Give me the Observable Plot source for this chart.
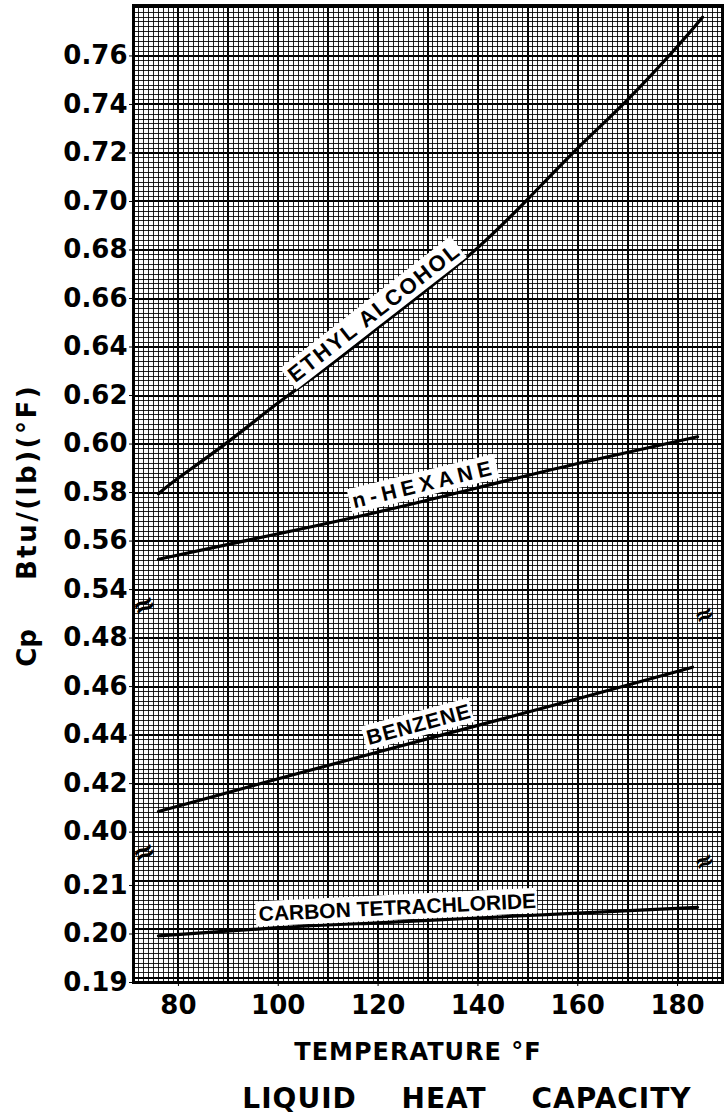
<!DOCTYPE html>
<html>
<head>
<meta charset="utf-8">
<title>Liquid Heat Capacity</title>
<script src="https://cdn.jsdelivr.net/npm/d3@7"></script>
<script src="https://cdn.jsdelivr.net/npm/@observablehq/plot@0.6"></script>
<style>
  html, body { margin: 0; padding: 0; background: #fff; }
  #page { position: relative; width: 724px; height: 1118px; overflow: hidden; background: #fff; }
  #page svg { position: absolute; left: 0; top: 0; }
  .caption { position: absolute; font-family: "DejaVu Sans", sans-serif; font-weight: bold; color: #000; text-align: center; white-space: pre; line-height: 1; }
  #xlabel { left: 123px; width: 590px; top: 1040px; font-size: 24px; letter-spacing: 1px; }
  #title { left: 210px; width: 514px; top: 1085px; font-size: 28px; letter-spacing: 1px; word-spacing: 34px; }
</style>
</head>
<body>
<div id="page">
  <div id="xlabel" class="caption">TEMPERATURE °F</div>
  <div id="title" class="caption">LIQUID HEAT CAPACITY</div>
</div>
<script>
// Heat capacity of liquids, Cp in Btu/(lb)(°F), against temperature in °F
const ethylT   = [76, 80, 90, 100, 110, 120, 130, 140, 150, 160, 170, 180, 185];
const ethylCp  = [0.5795, 0.586, 0.601, 0.617, 0.632, 0.648, 0.664, 0.681, 0.701, 0.722, 0.742, 0.764, 0.776];
const hexaneT  = [76, 100, 120, 140, 160, 184];
const hexaneCp = [0.5525, 0.563, 0.572, 0.582, 0.592, 0.603];
const benzeneT  = [76, 100, 120, 140, 160, 183];
const benzeneCp = [0.4085, 0.422, 0.433, 0.444, 0.455, 0.468];
const cclT  = [76, 100, 120, 140, 160, 184];
const cclCp = [0.1996, 0.2013, 0.2023, 0.2033, 0.2043, 0.2055];

// Curve labels: text, temperature at the label centre, letter spacing (px), lift above the curve (px), size
const labelNames   = ["ETHYL ALCOHOL", "n-HEXANE", "BENZENE", "CARBON TETRACHLORIDE"];
const labelTemps   = [121, 130, 129, 124];
const labelSpacing = [2, 5, 1, 0];
const labelLift    = [14, 16, 16, 14];
const labelSize    = [22, 21, 21, 21];

// Axis ticks
const xTicks = [80, 100, 120, 140, 160, 180];
const yTicks = [0.19, 0.20, 0.21, 0.40, 0.42, 0.44, 0.46, 0.48,
                0.54, 0.56, 0.58, 0.60, 0.62, 0.64, 0.66, 0.68, 0.70, 0.72, 0.74, 0.76];

// The Cp axis is broken into three bands; each is mapped onto one
// continuous "grid" coordinate, one unit per heavy graph-paper division.
function toGrid(v) {
  if (v < 0.30) return (v - 0.19) / 0.01;          // 0.19 – 0.215, 0.01 per division
  if (v < 0.51) return 3.1 + (v - 0.40) / 0.02;    // 0.39 – 0.49, 0.02 per division
  return 8.1 + (v - 0.54) / 0.02;                  // 0.53 – 0.78, 0.02 per division
}
const breakAt = [toGrid(0.2158), toGrid(0.5314)];

const width = 724, height = 1030;
const marginLeft = 133, marginRight = 2, marginTop = 5, marginBottom = 48;
const xDomain = [71, 189];
const yDomain = [0, 20.14];

const series = [
  {T: ethylT, Cp: ethylCp},
  {T: hexaneT, Cp: hexaneCp},
  {T: benzeneT, Cp: benzeneCp},
  {T: cclT, Cp: cclCp}
];
const rows = s => s.T.map((t, i) => ({t, cp: s.Cp[i]}));

// Graph-paper rulings: fine every 1/10 division, heavy every division
const xMinor = d3.range(72, 189, 1);
const xMajor = d3.range(80, 189, 10);
const yMinor = d3.range(1, 202).map(i => i / 10);
const yMajor = d3.range(0, 21).map(i => i + 0.1);

const xs = Plot.scale({x: {domain: xDomain, range: [marginLeft, width - marginRight]}});
const ys = Plot.scale({y: {domain: yDomain, range: [height - marginBottom, marginTop]}});

const cpAt = (s, t) => {
  const i = Math.max(1, Math.min(s.T.length - 1, d3.bisectLeft(s.T, t)));
  const f = (t - s.T[i - 1]) / (s.T[i] - s.T[i - 1]);
  return s.Cp[i - 1] + f * (s.Cp[i] - s.Cp[i - 1]);
};

// Each label sits just above its curve, turned to follow the curve's slope
const labelMarks = labelNames.map((name, k) => {
  const s = series[k], t = labelTemps[k];
  const x1 = xs.apply(t - 6), y1 = ys.apply(toGrid(cpAt(s, t - 6)));
  const x2 = xs.apply(t + 6), y2 = ys.apply(toGrid(cpAt(s, t + 6)));
  const a = Math.atan2(y2 - y1, x2 - x1);
  const off = labelLift[k];
  return Plot.text([{t, cp: cpAt(s, t), name}], {
    x: "t", y: d => toGrid(d.cp), text: "name",
    rotate: a * 180 / Math.PI,
    dx: off * Math.sin(a), dy: -off * Math.cos(a),
    fontSize: labelSize[k], fontWeight: "bold",
    fontFamily: "Liberation Sans, Arial, sans-serif",
    fill: "black"
  });
});

const chart = Plot.plot({
  width, height, marginLeft, marginRight, marginTop, marginBottom,
  x: {domain: xDomain, axis: null},
  y: {domain: yDomain, axis: null},
  style: {background: "white", fontFamily: "DejaVu Sans, sans-serif", color: "black"},
  marks: [
    Plot.ruleX(xMinor, {stroke: "#000", strokeWidth: 1, strokeOpacity: 0.85, shapeRendering: "crispEdges"}),
    Plot.ruleY(yMinor, {stroke: "#000", strokeWidth: 1, strokeOpacity: 0.85, shapeRendering: "crispEdges"}),
    Plot.ruleX(xMajor, {stroke: "#000", strokeWidth: 2, shapeRendering: "crispEdges"}),
    Plot.ruleY(yMajor, {stroke: "#000", strokeWidth: 2, shapeRendering: "crispEdges"}),
    ...series.map(s => Plot.line(rows(s), {x: "t", y: d => toGrid(d.cp), curve: "natural", stroke: "black", strokeWidth: 3.2})),
    ...labelMarks,
    Plot.frame({stroke: "black", strokeWidth: 3}),
    Plot.text(breakAt, {y: d => d, frameAnchor: "left", text: () => "≈", fontSize: 28, fontWeight: "bold", rotate: -25, fill: "black"}),
    Plot.text(breakAt, {y: d => d, frameAnchor: "right", dx: -9, text: () => "≈", fontSize: 24, fontWeight: "bold", rotate: -25, fill: "black"}),
    Plot.axisY(yTicks.map(toGrid), {
      tickFormat: d => yTicks[yTicks.map(toGrid).indexOf(d)].toFixed(2),
      tickSize: 4, tickPadding: 2, fontSize: 26, fontWeight: "bold", label: null
    }),
    Plot.axisX(xTicks, {tickSize: 4, tickPadding: 9, fontSize: 26, fontWeight: "bold", label: null})
  ]
});

const page = document.getElementById("page");
page.insertBefore(chart, page.firstChild);

const svg = d3.select(chart);

// White boxes behind the curve labels
svg.selectAll("text")
  .filter(function () { return labelNames.includes(this.textContent); })
  .each(function () {
    const k = labelNames.indexOf(this.textContent);
    this.setAttribute("letter-spacing", labelSpacing[k]);
    const b = this.getBBox();
    const rect = document.createElementNS("http://www.w3.org/2000/svg", "rect");
    rect.setAttribute("x", b.x - 3);
    rect.setAttribute("y", b.y - 1);
    rect.setAttribute("width", b.width + 4);
    rect.setAttribute("height", b.height + 2);
    const tr = this.getAttribute("transform");
    if (tr) rect.setAttribute("transform", tr);
    rect.setAttribute("fill", "white");
    rect.setAttribute("stroke", "none");
    this.parentNode.insertBefore(rect, this);
  });

// Vertical axis title
const yTitle = svg.append("g")
  .attr("font-family", "DejaVu Sans, sans-serif")
  .attr("font-weight", "bold")
  .attr("font-size", 26)
  .attr("text-anchor", "middle")
  .attr("fill", "black");
yTitle.append("text").attr("transform", "translate(36,648) rotate(-90)").text("Cp");
yTitle.append("text").attr("transform", "translate(36,482) rotate(-90)")
  .attr("letter-spacing", 2.5).text("Btu/(lb)(°F)");
</script>
</body>
</html>
